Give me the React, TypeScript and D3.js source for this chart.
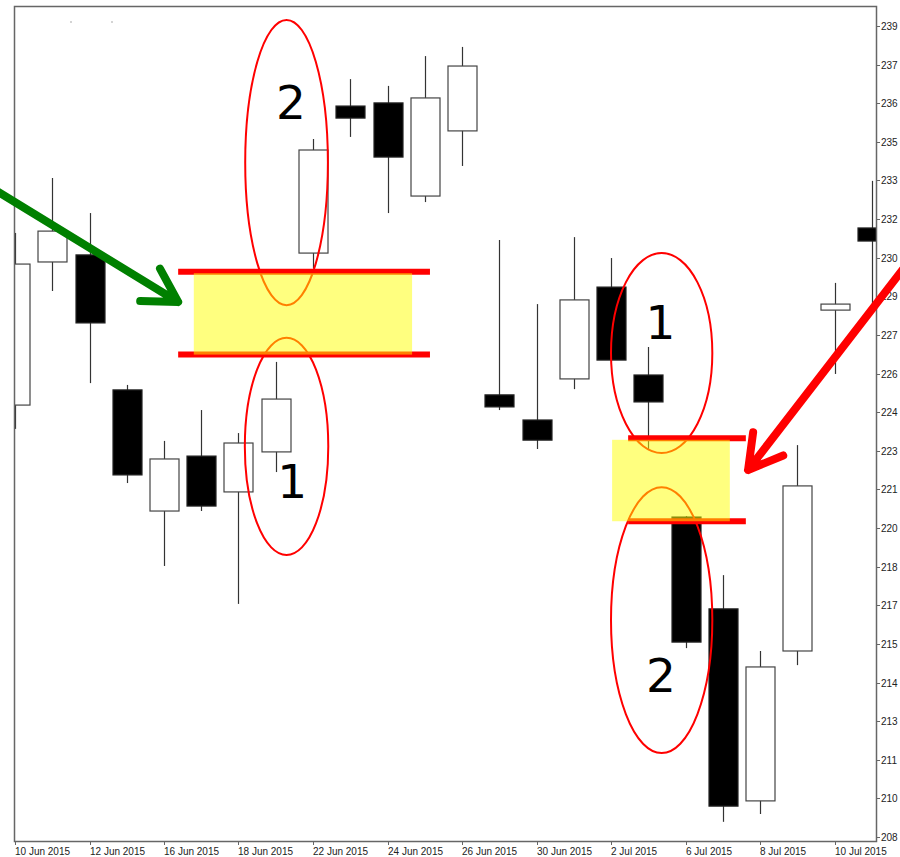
import React from "react";
import * as d3 from "d3";

// daily candles, 10 Jun 2015 .. 13 Jul 2015
const dates = [
  "2015-06-10", "2015-06-11", "2015-06-12", "2015-06-15", "2015-06-16", "2015-06-17",
  "2015-06-18", "2015-06-19", "2015-06-22", "2015-06-23", "2015-06-24", "2015-06-25",
  "2015-06-26", "2015-06-29", "2015-06-30", "2015-07-01", "2015-07-02", "2015-07-03",
  "2015-07-06", "2015-07-07", "2015-07-08", "2015-07-09", "2015-07-10", "2015-07-13",
];
const opens = [224.51, 229.98, 230.25, 225.09, 220.46, 222.56, 221.19, 222.72, 230.32, 235.94, 236.06, 232.5,
  234.99, 224.9, 223.94, 225.51, 229.02, 225.66, 220.23, 216.72, 209.38, 215.11, 228.14, 231.28];
const highs = [231.09, 233.19, 231.85, 225.28, 223.14, 224.32, 223.44, 226.16, 234.68, 236.97, 236.71, 237.85,
  238.2, 230.82, 228.37, 230.93, 230.13, 226.73, 220.27, 218.01, 215.11, 222.98, 229.18, 233.08];
const lows = [223.6, 228.87, 225.35, 221.53, 218.36, 220.46, 216.91, 221.95, 229.75, 234.76, 231.85, 232.27,
  233.65, 224.32, 222.83, 225.12, 226.19, 222.79, 215.22, 208.58, 208.88, 214.57, 225.7, 228.07];
const closes = [229.9, 231.16, 227.65, 221.84, 222.45, 220.65, 223.06, 224.74, 234.26, 235.48, 233.99, 236.25,
  237.47, 224.44, 223.17, 228.53, 226.23, 224.63, 215.45, 209.18, 214.5, 221.42, 228.37, 230.78];

// price axis labels as printed (rounded), bottom to top
const priceLabels = ["208", "210", "211", "213", "214", "215", "217", "218", "220", "221", "223",
  "224", "226", "227", "229", "230", "232", "233", "235", "236", "237", "239"];

// annotations, in candle index / price units
const zones = [
  {lineFrom: 4.38, lineTo: 11.14, boxFrom: 4.8, boxTo: 10.66, top: 229.61, bottom: 226.44},
  {lineFrom: 16.46, lineTo: 19.62, boxFrom: 16.03, boxTo: 19.19, top: 223.24, bottom: 220.07},
];
const ellipses = [
  {cx: 7.29, cy: 233.78, rx: 1.11, ry: 5.45},
  {cx: 7.29, cy: 222.93, rx: 1.12, ry: 4.15},
  {cx: 17.36, cy: 226.5, rx: 1.36, ry: 3.82},
  {cx: 17.36, cy: 216.29, rx: 1.36, ry: 5.08},
];
const markers = [
  {label: "2", i: 7.41, p: 235.43},
  {label: "1", i: 7.44, p: 220.96},
  {label: "1", i: 17.33, p: 227.04},
  {label: "2", i: 17.34, p: 213.54},
];
const arrows = [
  {color: "#008000", fromI: -0.67, fromP: 232.85, toI: 4.38, toP: 228.45},
  {color: "#ff0000", fromI: 24.03, fromP: 230.06, toI: 19.68, toP: 222.03},
];

export default function App() {
  const width = 900;
  const height = 857;
  const frame = {left: 14, top: 6, right: 876, bottom: 841};
  const axisColor = "#666";
  const font = "'Liberation Sans', Arial, sans-serif";

  const x = d3.scaleLinear().domain([0, 22]).range([15, 834.5]);
  const y = d3.scaleLinear().domain([208, 239]).range([837, 26]);
  const step = x(1) - x(0);
  const bodyW = step * 0.77;

  const parse = d3.timeParse("%Y-%m-%d");
  const fmt = d3.timeFormat("%-d %b %Y");
  const priceTicks = priceLabels.map((l, i) => ({label: l, v: 208 + (i * 31) / (priceLabels.length - 1)}));

  const candles = dates.map((d, i) => ({
    i, date: parse(d)!, o: opens[i], h: highs[i], l: lows[i], c: closes[i],
  }));

  const arrowPath = (a: typeof arrows[number]) => {
    const x0 = x(a.fromI), y0 = y(a.fromP), x1 = x(a.toI), y1 = y(a.toP);
    const ang = Math.atan2(y0 - y1, x0 - x1);
    const len = 38, spread = Math.PI / 6;
    const p1 = [x1 + len * Math.cos(ang + spread), y1 + len * Math.sin(ang + spread)];
    const p2 = [x1 + len * Math.cos(ang - spread), y1 + len * Math.sin(ang - spread)];
    return `M${x0},${y0}L${x1},${y1}M${p1[0]},${p1[1]}L${x1},${y1}L${p2[0]},${p2[1]}`;
  };

  return (
    <svg width={width} height={height} style={{position: "absolute", left: 0, top: 0, background: "#fff"}}>
      <defs>
        <clipPath id="plot-clip">
          <rect x={frame.left} y={frame.top} width={frame.right - frame.left} height={frame.bottom - frame.top}/>
        </clipPath>
      </defs>

      {/* candles */}
      <g clipPath="url(#plot-clip)">
        {candles.map(d => {
          const up = d.c >= d.o;
          const top = y(Math.max(d.o, d.c));
          const bot = y(Math.min(d.o, d.c));
          const cx = Math.round(x(d.i)) + 0.5;
          return (
            <g key={d.i}>
              <line x1={cx} x2={cx} y1={y(d.h)} y2={y(d.l)} stroke="#333" strokeWidth={1.2}/>
              <rect x={Math.round(cx - bodyW / 2)} y={top} width={Math.round(bodyW)} height={Math.max(bot - top, 1)}
                fill={up ? "#fff" : "#000"} stroke={up ? "#444" : "#222"} strokeWidth={1.2}/>
            </g>
          );
        })}
      </g>

      {/* frame */}
      <rect x={frame.left + 0.5} y={frame.top + 0.5} width={frame.right - frame.left} height={frame.bottom - frame.top}
        fill="none" stroke={axisColor} strokeWidth={1.5}/>
      <rect x={70} y={21.5} width={2} height={1} fill="#aaa"/>
      <rect x={111} y={21.5} width={2} height={1} fill="#aaa"/>

      {/* price axis */}
      <g fontFamily={font} fontSize={10} fill="#222">
        {priceTicks.map(t => (
          <g key={t.label + t.v} transform={`translate(${frame.right},${Math.round(y(t.v)) + 0.5})`}>
            <line x1={0} x2={4} stroke={axisColor}/>
            <text x={5} dy="0.35em">{t.label}</text>
          </g>
        ))}
      </g>

      {/* time axis */}
      <g fontFamily={font} fontSize={10} fill="#222">
        {candles.filter(d => d.i % 2 === 0).map(d => (
          <g key={d.i} transform={`translate(${Math.round(x(d.i)) + 0.5},${frame.bottom})`}>
            <line y1={0} y2={4} stroke={axisColor}/>
            <text x={-0.5} y={14}>{fmt(d.date)}</text>
          </g>
        ))}
      </g>

      {/* zone edges */}
      {zones.map((z, k) => (
        <g key={"l" + k} stroke="#ff0000" strokeWidth={6}>
          <line x1={x(z.lineFrom)} x2={x(z.lineTo)} y1={y(z.top)} y2={y(z.top)}/>
          <line x1={x(z.lineFrom)} x2={x(z.lineTo)} y1={y(z.bottom)} y2={y(z.bottom)}/>
        </g>
      ))}

      {ellipses.map((e, k) => (
        <ellipse key={"e" + k} cx={x(e.cx)} cy={y(e.cy)} rx={x(e.rx) - x(0)} ry={y(0) - y(e.ry)}
          fill="none" stroke="#ff0000" strokeWidth={2}/>
      ))}

      {zones.map((z, k) => (
        <rect key={"z" + k} x={x(z.boxFrom)} y={y(z.top) + 1.5} width={x(z.boxTo) - x(z.boxFrom)}
          height={y(z.bottom) - y(z.top) - 1.5} fill="#ffff00" fillOpacity={0.5}/>
      ))}

      {markers.map((m, k) => (
        <text key={"m" + k} x={x(m.i)} y={y(m.p)} textAnchor="middle" fontFamily="'DejaVu Sans', sans-serif"
          fontSize={47} fill="#000">{m.label}</text>
      ))}

      {arrows.map((a, k) => (
        <path key={"a" + k} d={arrowPath(a)} fill="none" stroke={a.color} strokeWidth={8}
          strokeLinecap="round" strokeLinejoin="round"/>
      ))}
    </svg>
  );
}
